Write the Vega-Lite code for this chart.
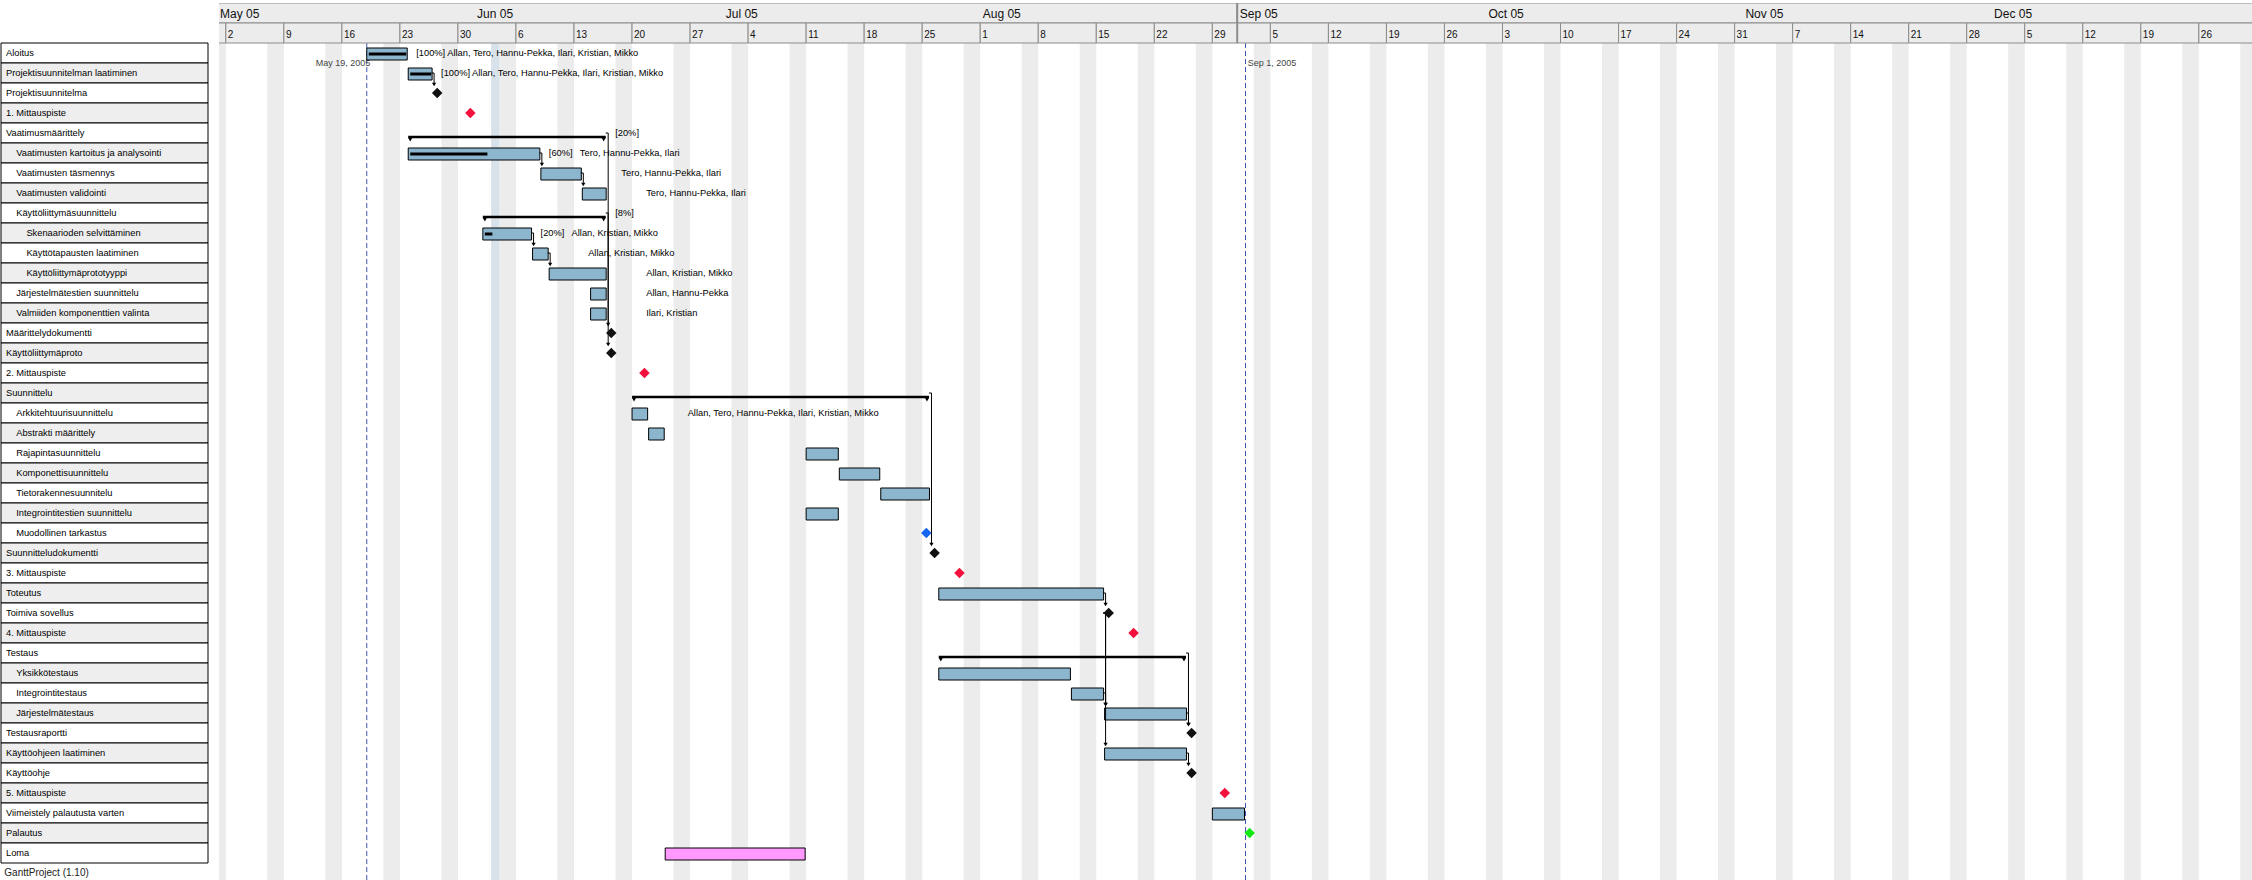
{
  "$schema": "https://vega.github.io/schema/vega-lite/v6.json",
  "padding": {"left": 0, "top": 2, "right": 0, "bottom": 0},
  "autosize": {"type": "pad"},
  "background": "#ffffff",
  "spacing": 10,
  "config": {
    "view": {"stroke": null},
    "axis": {"disable": true},
    "legend": {"disable": true},
    "text": {"font": "Liberation Sans"}
  },
  "datasets": {
    "tasks": [
      {"task": "Aloitus", "level": 0, "kind": "task", "start": "2005-05-19", "end": "2005-05-24", "done": "2005-05-24", "pct": "[100%]", "res": "Allan, Tero, Hannu-Pekka, Ilari, Kristian, Mikko"},
      {"task": "Projektisuunnitelman laatiminen", "level": 0, "kind": "task", "start": "2005-05-24", "end": "2005-05-27", "done": "2005-05-27", "pct": "[100%]", "res": "Allan, Tero, Hannu-Pekka, Ilari, Kristian, Mikko"},
      {"task": "Projektisuunnitelma", "level": 0, "kind": "milestone", "start": "2005-05-27"},
      {"task": "1. Mittauspiste", "level": 0, "kind": "checkpoint", "start": "2005-05-31"},
      {"task": "Vaatimusmäärittely", "level": 0, "kind": "summary", "start": "2005-05-24", "end": "2005-06-17", "pct": "[20%]"},
      {"task": "Vaatimusten kartoitus ja analysointi", "level": 1, "kind": "task", "start": "2005-05-24", "end": "2005-06-09", "done": "2005-06-02T19:00:00Z", "pct": "[60%]", "res": "Tero, Hannu-Pekka, Ilari"},
      {"task": "Vaatimusten täsmennys", "level": 1, "kind": "task", "start": "2005-06-09", "end": "2005-06-14", "res": "Tero, Hannu-Pekka, Ilari"},
      {"task": "Vaatimusten validointi", "level": 1, "kind": "task", "start": "2005-06-14", "end": "2005-06-17", "res": "Tero, Hannu-Pekka, Ilari"},
      {"task": "Käyttöliittymäsuunnittelu", "level": 1, "kind": "summary", "start": "2005-06-02", "end": "2005-06-17", "pct": "[8%]"},
      {"task": "Skenaarioden selvittäminen", "level": 2, "kind": "task", "start": "2005-06-02", "end": "2005-06-08", "done": "2005-06-03T09:20:00Z", "pct": "[20%]", "res": "Allan, Kristian, Mikko"},
      {"task": "Käyttötapausten laatiminen", "level": 2, "kind": "task", "start": "2005-06-08", "end": "2005-06-10", "res": "Allan, Kristian, Mikko"},
      {"task": "Käyttöliittymäprototyyppi", "level": 2, "kind": "task", "start": "2005-06-10", "end": "2005-06-17", "res": "Allan, Kristian, Mikko"},
      {"task": "Järjestelmätestien suunnittelu", "level": 1, "kind": "task", "start": "2005-06-15", "end": "2005-06-17", "res": "Allan, Hannu-Pekka"},
      {"task": "Valmiiden komponenttien valinta", "level": 1, "kind": "task", "start": "2005-06-15", "end": "2005-06-17", "res": "Ilari, Kristian"},
      {"task": "Määrittelydokumentti", "level": 0, "kind": "milestone", "start": "2005-06-17"},
      {"task": "Käyttöliittymäproto", "level": 0, "kind": "milestone", "start": "2005-06-17"},
      {"task": "2. Mittauspiste", "level": 0, "kind": "checkpoint", "start": "2005-06-21"},
      {"task": "Suunnittelu", "level": 0, "kind": "summary", "start": "2005-06-20", "end": "2005-07-26"},
      {"task": "Arkkitehtuurisuunnittelu", "level": 1, "kind": "task", "start": "2005-06-20", "end": "2005-06-22", "res": "Allan, Tero, Hannu-Pekka, Ilari, Kristian, Mikko"},
      {"task": "Abstrakti määrittely", "level": 1, "kind": "task", "start": "2005-06-22", "end": "2005-06-24"},
      {"task": "Rajapintasuunnittelu", "level": 1, "kind": "task", "start": "2005-07-11", "end": "2005-07-15"},
      {"task": "Komponettisuunnittelu", "level": 1, "kind": "task", "start": "2005-07-15", "end": "2005-07-20"},
      {"task": "Tietorakennesuunnitelu", "level": 1, "kind": "task", "start": "2005-07-20", "end": "2005-07-26"},
      {"task": "Integrointitestien suunnittelu", "level": 1, "kind": "task", "start": "2005-07-11", "end": "2005-07-15"},
      {"task": "Muodollinen tarkastus", "level": 1, "kind": "review", "start": "2005-07-25"},
      {"task": "Suunnitteludokumentti", "level": 0, "kind": "milestone", "start": "2005-07-26"},
      {"task": "3. Mittauspiste", "level": 0, "kind": "checkpoint", "start": "2005-07-29"},
      {"task": "Toteutus", "level": 0, "kind": "task", "start": "2005-07-27", "end": "2005-08-16"},
      {"task": "Toimiva sovellus", "level": 0, "kind": "milestone", "start": "2005-08-16"},
      {"task": "4. Mittauspiste", "level": 0, "kind": "checkpoint", "start": "2005-08-19"},
      {"task": "Testaus", "level": 0, "kind": "summary", "start": "2005-07-27", "end": "2005-08-26"},
      {"task": "Yksikkötestaus", "level": 1, "kind": "task", "start": "2005-07-27", "end": "2005-08-12"},
      {"task": "Integrointitestaus", "level": 1, "kind": "task", "start": "2005-08-12", "end": "2005-08-16"},
      {"task": "Järjestelmätestaus", "level": 1, "kind": "task", "start": "2005-08-16", "end": "2005-08-26"},
      {"task": "Testausraportti", "level": 0, "kind": "milestone", "start": "2005-08-26"},
      {"task": "Käyttöohjeen laatiminen", "level": 0, "kind": "task", "start": "2005-08-16", "end": "2005-08-26"},
      {"task": "Käyttöohje", "level": 0, "kind": "milestone", "start": "2005-08-26"},
      {"task": "5. Mittauspiste", "level": 0, "kind": "checkpoint", "start": "2005-08-30"},
      {"task": "Viimeistely palautusta varten", "level": 0, "kind": "task", "start": "2005-08-29", "end": "2005-09-02"},
      {"task": "Palautus", "level": 0, "kind": "delivery", "start": "2005-09-02"},
      {"task": "Loma", "level": 0, "kind": "vacation", "start": "2005-06-24", "end": "2005-07-11"}
    ],
    "weeks": [
      {"task": "_week", "start": "2005-04-25", "sat": "2005-04-30", "end": "2005-05-02", "label": ""},
      {"task": "_week", "start": "2005-05-02", "sat": "2005-05-07", "end": "2005-05-09", "label": "2"},
      {"task": "_week", "start": "2005-05-09", "sat": "2005-05-14", "end": "2005-05-16", "label": "9"},
      {"task": "_week", "start": "2005-05-16", "sat": "2005-05-21", "end": "2005-05-23", "label": "16"},
      {"task": "_week", "start": "2005-05-23", "sat": "2005-05-28", "end": "2005-05-30", "label": "23"},
      {"task": "_week", "start": "2005-05-30", "sat": "2005-06-04", "end": "2005-06-06", "label": "30"},
      {"task": "_week", "start": "2005-06-06", "sat": "2005-06-11", "end": "2005-06-13", "label": "6"},
      {"task": "_week", "start": "2005-06-13", "sat": "2005-06-18", "end": "2005-06-20", "label": "13"},
      {"task": "_week", "start": "2005-06-20", "sat": "2005-06-25", "end": "2005-06-27", "label": "20"},
      {"task": "_week", "start": "2005-06-27", "sat": "2005-07-02", "end": "2005-07-04", "label": "27"},
      {"task": "_week", "start": "2005-07-04", "sat": "2005-07-09", "end": "2005-07-11", "label": "4"},
      {"task": "_week", "start": "2005-07-11", "sat": "2005-07-16", "end": "2005-07-18", "label": "11"},
      {"task": "_week", "start": "2005-07-18", "sat": "2005-07-23", "end": "2005-07-25", "label": "18"},
      {"task": "_week", "start": "2005-07-25", "sat": "2005-07-30", "end": "2005-08-01", "label": "25"},
      {"task": "_week", "start": "2005-08-01", "sat": "2005-08-06", "end": "2005-08-08", "label": "1"},
      {"task": "_week", "start": "2005-08-08", "sat": "2005-08-13", "end": "2005-08-15", "label": "8"},
      {"task": "_week", "start": "2005-08-15", "sat": "2005-08-20", "end": "2005-08-22", "label": "15"},
      {"task": "_week", "start": "2005-08-22", "sat": "2005-08-27", "end": "2005-08-29", "label": "22"},
      {"task": "_week", "start": "2005-08-29", "sat": "2005-09-03", "end": "2005-09-05", "label": "29"},
      {"task": "_week", "start": "2005-09-05", "sat": "2005-09-10", "end": "2005-09-12", "label": "5"},
      {"task": "_week", "start": "2005-09-12", "sat": "2005-09-17", "end": "2005-09-19", "label": "12"},
      {"task": "_week", "start": "2005-09-19", "sat": "2005-09-24", "end": "2005-09-26", "label": "19"},
      {"task": "_week", "start": "2005-09-26", "sat": "2005-10-01", "end": "2005-10-03", "label": "26"},
      {"task": "_week", "start": "2005-10-03", "sat": "2005-10-08", "end": "2005-10-10", "label": "3"},
      {"task": "_week", "start": "2005-10-10", "sat": "2005-10-15", "end": "2005-10-17", "label": "10"},
      {"task": "_week", "start": "2005-10-17", "sat": "2005-10-22", "end": "2005-10-24", "label": "17"},
      {"task": "_week", "start": "2005-10-24", "sat": "2005-10-29", "end": "2005-10-31", "label": "24"},
      {"task": "_week", "start": "2005-10-31", "sat": "2005-11-05", "end": "2005-11-07", "label": "31"},
      {"task": "_week", "start": "2005-11-07", "sat": "2005-11-12", "end": "2005-11-14", "label": "7"},
      {"task": "_week", "start": "2005-11-14", "sat": "2005-11-19", "end": "2005-11-21", "label": "14"},
      {"task": "_week", "start": "2005-11-21", "sat": "2005-11-26", "end": "2005-11-28", "label": "21"},
      {"task": "_week", "start": "2005-11-28", "sat": "2005-12-03", "end": "2005-12-05", "label": "28"},
      {"task": "_week", "start": "2005-12-05", "sat": "2005-12-10", "end": "2005-12-12", "label": "5"},
      {"task": "_week", "start": "2005-12-12", "sat": "2005-12-17", "end": "2005-12-19", "label": "12"},
      {"task": "_week", "start": "2005-12-19", "sat": "2005-12-24", "end": "2005-12-26", "label": "19"},
      {"task": "_week", "start": "2005-12-26", "sat": "2005-12-31", "end": "2006-01-02", "label": "26"}
    ],
    "months": [
      {"task": "_month", "start": "2005-04-01", "end": "2005-09-01"},
      {"task": "_month", "start": "2005-09-01", "end": "2006-02-01"}
    ],
    "monthLabels": [
      {"task": "_month", "date": "2005-05-01", "label": "May 05"},
      {"task": "_month", "date": "2005-06-01", "label": "Jun 05"},
      {"task": "_month", "date": "2005-07-01", "label": "Jul 05"},
      {"task": "_month", "date": "2005-08-01", "label": "Aug 05"},
      {"task": "_month", "date": "2005-09-01", "label": "Sep 05"},
      {"task": "_month", "date": "2005-10-01", "label": "Oct 05"},
      {"task": "_month", "date": "2005-11-01", "label": "Nov 05"},
      {"task": "_month", "date": "2005-12-01", "label": "Dec 05"}
    ],
    "markers": [
      {"task": "Aloitus", "date": "2005-05-19", "label": "May 19, 2005"},
      {"task": "Aloitus", "date": "2005-09-02", "label": "Sep 1, 2005"}
    ],
    "links": [
      {"date": "2005-05-27", "task": "Projektisuunnitelman laatiminen", "to": "Projektisuunnitelma"},
      {"date": "2005-06-09", "task": "Vaatimusten kartoitus ja analysointi", "to": "Vaatimusten täsmennys"},
      {"date": "2005-06-14", "task": "Vaatimusten täsmennys", "to": "Vaatimusten validointi"},
      {"date": "2005-06-08", "task": "Skenaarioden selvittäminen", "to": "Käyttötapausten laatiminen"},
      {"date": "2005-06-10", "task": "Käyttötapausten laatiminen", "to": "Käyttöliittymäprototyyppi"},
      {"date": "2005-06-17", "task": "Vaatimusmäärittely", "to": "Määrittelydokumentti"},
      {"date": "2005-06-17", "task": "Käyttöliittymäsuunnittelu", "to": "Käyttöliittymäproto"},
      {"date": "2005-07-26", "task": "Suunnittelu", "to": "Suunnitteludokumentti"},
      {"date": "2005-08-16", "task": "Toteutus", "to": "Toimiva sovellus"},
      {"date": "2005-08-16", "task": "Toimiva sovellus", "to": "Järjestelmätestaus"},
      {"date": "2005-08-16", "task": "Integrointitestaus", "to": "Järjestelmätestaus"},
      {"date": "2005-08-16", "task": "Toimiva sovellus", "to": "Käyttöohjeen laatiminen"},
      {"date": "2005-08-26", "task": "Testaus", "to": "Testausraportti"},
      {"date": "2005-08-26", "task": "Järjestelmätestaus", "to": "Testausraportti"},
      {"date": "2005-08-26", "task": "Käyttöohjeen laatiminen", "to": "Käyttöohje"}
    ]
  },
  "hconcat": [
    {
      "width": 207,
      "height": 880,
      "layer": [
        {
          "data": {"name": "tasks"},
          "transform": [{"window": [{"op": "row_number", "as": "rn"}]}],
          "mark": {"type": "rect", "stroke": "#000000", "strokeWidth": 1},
          "encoding": {
            "y": {"field": "task", "type": "nominal", "axis": null,
              "scale": {"type": "band", "paddingInner": 0, "paddingOuter": 0,
                "domain": ["_month","_week","Aloitus","Projektisuunnitelman laatiminen","Projektisuunnitelma","1. Mittauspiste","Vaatimusmäärittely","Vaatimusten kartoitus ja analysointi","Vaatimusten täsmennys","Vaatimusten validointi","Käyttöliittymäsuunnittelu","Skenaarioden selvittäminen","Käyttötapausten laatiminen","Käyttöliittymäprototyyppi","Järjestelmätestien suunnittelu","Valmiiden komponenttien valinta","Määrittelydokumentti","Käyttöliittymäproto","2. Mittauspiste","Suunnittelu","Arkkitehtuurisuunnittelu","Abstrakti määrittely","Rajapintasuunnittelu","Komponettisuunnittelu","Tietorakennesuunnitelu","Integrointitestien suunnittelu","Muodollinen tarkastus","Suunnitteludokumentti","3. Mittauspiste","Toteutus","Toimiva sovellus","4. Mittauspiste","Testaus","Yksikkötestaus","Integrointitestaus","Järjestelmätestaus","Testausraportti","Käyttöohjeen laatiminen","Käyttöohje","5. Mittauspiste","Viimeistely palautusta varten","Palautus","Loma","_footer"]}},
            "fill": {"condition": {"test": "datum.rn % 2 == 0", "value": "#eeeeee"}, "value": "#ffffff"}
          }
        },
        {
          "data": {"name": "tasks"},
          "mark": {"type": "text", "align": "left", "baseline": "middle", "font": "Liberation Sans", "fontSize": 9.3, "color": "#000000"},
          "encoding": {
            "y": {"field": "task", "type": "nominal"},
            "x": {"field": "level", "type": "quantitative", "axis": null, "scale": {"domain": [0, 2], "range": [5, 25.4]}},
            "text": {"field": "task"}
          }
        },
        {
          "data": {"values": [{"task": "_footer", "label": "GanttProject (1.10)"}]},
          "mark": {"type": "text", "align": "left", "baseline": "middle", "font": "Liberation Sans", "fontSize": 10, "dx": -1.7, "color": "#222222"},
          "encoding": {
            "y": {"field": "task", "type": "nominal"},
            "x": {"datum": 0, "type": "quantitative"},
            "text": {"field": "label"}
          }
        }
      ]
    },
    {
      "width": 2035,
      "height": 880,
      "layer": [
        {
          "data": {"name": "weeks"},
          "mark": {"type": "rect", "fill": "#ececec", "clip": true},
          "encoding": {
            "x": {"field": "sat", "type": "temporal", "axis": null, "scale": {"domain": [1114920600000, 1136130000000]}},
            "x2": {"field": "end"}
          }
        },
        {
          "data": {"values": [{"start": "2005-06-03", "end": "2005-06-04"}]},
          "mark": {"type": "rect", "fill": "#d7e2ea"},
          "encoding": {
            "x": {"field": "start", "type": "temporal"},
            "x2": {"field": "end"}
          }
        },
        {
          "data": {"name": "markers"},
          "mark": {"type": "rule", "color": "#4256b0", "strokeDash": [5, 3], "strokeWidth": 1},
          "encoding": {"x": {"field": "date", "type": "temporal"}}
        },
        {
          "encoding": {
            "y": {"field": "task", "type": "nominal", "axis": null,
              "scale": {"type": "band", "paddingInner": 0, "paddingOuter": 0,
                "domain": ["_month","_week","Aloitus","Projektisuunnitelman laatiminen","Projektisuunnitelma","1. Mittauspiste","Vaatimusmäärittely","Vaatimusten kartoitus ja analysointi","Vaatimusten täsmennys","Vaatimusten validointi","Käyttöliittymäsuunnittelu","Skenaarioden selvittäminen","Käyttötapausten laatiminen","Käyttöliittymäprototyyppi","Järjestelmätestien suunnittelu","Valmiiden komponenttien valinta","Määrittelydokumentti","Käyttöliittymäproto","2. Mittauspiste","Suunnittelu","Arkkitehtuurisuunnittelu","Abstrakti määrittely","Rajapintasuunnittelu","Komponettisuunnittelu","Tietorakennesuunnitelu","Integrointitestien suunnittelu","Muodollinen tarkastus","Suunnitteludokumentti","3. Mittauspiste","Toteutus","Toimiva sovellus","4. Mittauspiste","Testaus","Yksikkötestaus","Integrointitestaus","Järjestelmätestaus","Testausraportti","Käyttöohjeen laatiminen","Käyttöohje","5. Mittauspiste","Viimeistely palautusta varten","Palautus","Loma","_footer"]}}
          },
          "layer": [
            {
              "data": {"name": "months"},
              "mark": {"type": "rect", "fill": "#ececec", "stroke": "#8c8c8c", "strokeWidth": 1, "clip": true},
              "encoding": {"x": {"field": "start", "type": "temporal"}, "x2": {"field": "end"}}
            },
            {
              "data": {"name": "weeks"},
              "mark": {"type": "rect", "fill": "#ececec", "stroke": "#8c8c8c", "strokeWidth": 1, "clip": true},
              "encoding": {"x": {"field": "start", "type": "temporal"}, "x2": {"field": "end"}}
            },
            {
              "data": {"values": [{"date": "2005-09-01", "task": "_month", "to": "_week"}]},
              "mark": {"type": "rule", "color": "#8c8c8c", "strokeWidth": 2, "yOffset": -10, "y2Offset": 10},
              "encoding": {"x": {"field": "date", "type": "temporal"}, "y2": {"field": "to"}}
            },
            {
              "data": {"name": "monthLabels"},
              "mark": {"type": "text", "align": "left", "baseline": "middle", "fontSize": 12, "dx": 2.5, "dy": 0.5, "color": "#111111", "font": "Liberation Sans"},
              "encoding": {"x": {"field": "date", "type": "temporal"}, "text": {"field": "label"}}
            },
            {
              "data": {"name": "weeks"},
              "transform": [{"filter": "datum.label != ''"}],
              "mark": {"type": "text", "align": "left", "baseline": "middle", "fontSize": 10, "dx": 2, "dy": 1.5, "color": "#111111", "font": "Liberation Sans"},
              "encoding": {"x": {"field": "start", "type": "temporal"}, "text": {"field": "label"}}
            },
            {
              "data": {"name": "markers"},
              "transform": [{"filter": "datum.label == 'May 19, 2005'"}],
              "mark": {"type": "text", "align": "right", "baseline": "middle", "fontSize": 9, "dx": 3.5, "dy": 9.7, "color": "#444444", "font": "Liberation Sans"},
              "encoding": {"x": {"field": "date", "type": "temporal"}, "text": {"field": "label"}}
            },
            {
              "data": {"name": "markers"},
              "transform": [{"filter": "datum.label != 'May 19, 2005'"}],
              "mark": {"type": "text", "align": "left", "baseline": "middle", "fontSize": 9, "dx": 2.2, "dy": 9.7, "color": "#444444", "font": "Liberation Sans"},
              "encoding": {"x": {"field": "date", "type": "temporal"}, "text": {"field": "label"}}
            },
            {
              "data": {"name": "tasks"},
              "transform": [{"filter": "datum.kind == 'task' || datum.kind == 'vacation'"}],
              "mark": {"type": "bar", "height": 12, "yOffset": 1, "x2Offset": -1, "stroke": "#000000", "strokeWidth": 1},
              "encoding": {
                "x": {"field": "start", "type": "temporal"},
                "x2": {"field": "end"},
                "fill": {"condition": {"test": "datum.kind == 'vacation'", "value": "#ff99ff"}, "value": "#8cb6ce"}
              }
            },
            {
              "data": {"name": "tasks"},
              "transform": [{"filter": "isValid(datum.done)"}],
              "mark": {"type": "bar", "height": 3, "yOffset": 1, "xOffset": 2, "x2Offset": -2, "color": "#000000"},
              "encoding": {"x": {"field": "start", "type": "temporal"}, "x2": {"field": "done"}}
            },
            {
              "data": {"name": "tasks"},
              "transform": [{"filter": "datum.kind == 'summary'"}],
              "mark": {"type": "bar", "height": 2.5, "yOffset": 4, "x2Offset": -1.5, "color": "#000000"},
              "encoding": {"x": {"field": "start", "type": "temporal"}, "x2": {"field": "end"}}
            },
            {
              "data": {"name": "tasks"},
              "transform": [{"filter": "datum.kind == 'summary'"}],
              "mark": {"type": "point", "shape": "triangle-down", "filled": true, "size": 20, "xOffset": 2, "yOffset": 6.5, "color": "#000000", "opacity": 1},
              "encoding": {"x": {"field": "start", "type": "temporal"}}
            },
            {
              "data": {"name": "tasks"},
              "transform": [{"filter": "datum.kind == 'summary'"}],
              "mark": {"type": "point", "shape": "triangle-down", "filled": true, "size": 20, "xOffset": -3.5, "yOffset": 6.5, "color": "#000000", "opacity": 1},
              "encoding": {"x": {"field": "end", "type": "temporal"}}
            },
            {
              "data": {"name": "links"},
              "mark": {"type": "rule", "color": "#000000", "strokeWidth": 1, "xOffset": -1.5, "x2Offset": 1},
              "encoding": {"x": {"field": "date", "type": "temporal"}, "x2": {"field": "date"}}
            },
            {
              "data": {"name": "links"},
              "mark": {"type": "rule", "color": "#000000", "strokeWidth": 1, "xOffset": 1, "y2Offset": -8},
              "encoding": {"x": {"field": "date", "type": "temporal"}, "y2": {"field": "to"}}
            },
            {
              "data": {"name": "links"},
              "mark": {"type": "point", "shape": "triangle-down", "filled": true, "size": 18, "xOffset": 1, "yOffset": -8.5, "color": "#000000", "opacity": 1},
              "encoding": {"x": {"field": "date", "type": "temporal"}, "y": {"field": "to", "type": "nominal"}}
            },
            {
              "data": {"name": "tasks"},
              "transform": [{"filter": "datum.kind == 'milestone' || datum.kind == 'checkpoint' || datum.kind == 'review' || datum.kind == 'delivery'"}],
              "mark": {"type": "point", "shape": "diamond", "filled": true, "size": 110, "xOffset": 4.1, "strokeWidth": 0.6, "opacity": 1},
              "encoding": {
                "x": {"field": "start", "type": "temporal"},
                "color": {"field": "kind", "type": "nominal", "legend": null, "scale": {"domain": ["milestone", "checkpoint", "review", "delivery"], "range": ["#111111", "#f2103c", "#1464f0", "#12e812"]}}
              }
            },
            {
              "data": {"name": "tasks"},
              "transform": [{"filter": "isValid(datum.pct)"}],
              "mark": {"type": "text", "align": "left", "baseline": "middle", "fontSize": 9.3, "dx": 8, "color": "#000000", "font": "Liberation Sans"},
              "encoding": {"x": {"field": "end", "type": "temporal"}, "text": {"field": "pct"}}
            },
            {
              "data": {"name": "tasks"},
              "transform": [{"filter": "isValid(datum.res)"}],
              "mark": {"type": "text", "align": "left", "baseline": "middle", "fontSize": 9.3, "dx": 39, "color": "#000000", "font": "Liberation Sans"},
              "encoding": {"x": {"field": "end", "type": "temporal"}, "text": {"field": "res"}}
            }
          ]
        }
      ]
    }
  ]
}
